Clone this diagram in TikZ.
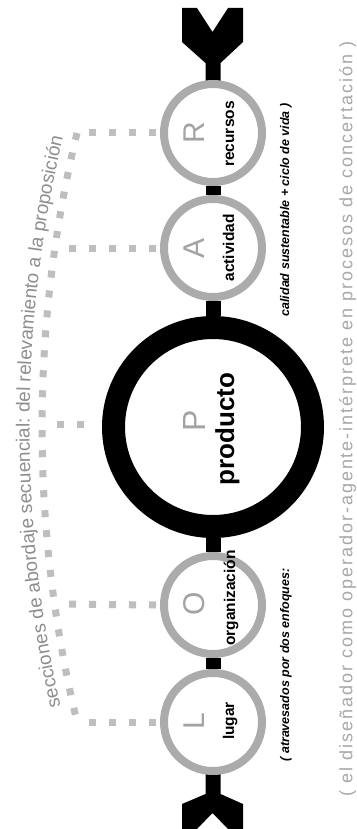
\documentclass[tikz,border=0pt]{standalone}
\usepackage{fontspec}
\setmainfont{Liberation Sans}
\newfontfamily\spacedfont[LetterSpace=11]{Liberation Sans}
\usetikzlibrary{decorations.text,backgrounds}
\definecolor{ringgray}{HTML}{ABABAB}
\definecolor{lettergray}{HTML}{A3A3A3}
\definecolor{dotgray}{HTML}{BEBEBE}
\definecolor{textgray}{HTML}{8E8E8E}
\definecolor{notegray}{HTML}{A8A8A8}
\tikzset{
  smallring/.style={circle, draw=ringgray, line width=8pt, fill=white, minimum size=98pt, inner sep=0pt},
  bigring/.style={circle, draw=black, line width=23pt, fill=white, minimum size=199pt, inner sep=0pt},
  lettertxt/.style={rotate=90, anchor=base, inner sep=0pt, text=lettergray, font=\fontsize{30}{30}\selectfont},
  nametxt/.style={rotate=90, anchor=base, inner sep=0pt, text=black, font=\bfseries\fontsize{15.5}{16}\selectfont},
  blackbar/.style={draw=black, line width=15pt},
  dots/.style={draw=dotgray, line width=7pt, dash pattern=on 7pt off 13pt},
  sidenote/.style={rotate=90, inner sep=0pt, text=black, font=\bfseries\itshape\fontsize{12.5}{14}\selectfont}
}
\begin{document}
\begin{tikzpicture}[x=1pt,y=-1pt]
\useasboundingbox (0,0) rectangle (356,829);

% circles
\node[smallring] (R) at (213,133) {};
\node[smallring] (A) at (213,248) {};
\node[bigring]   (P) at (213,427) {};
\node[smallring] (O) at (213,605) {};
\node[smallring] (L) at (213,722) {};

% letters and names
\node[lettertxt] (Rl) at (204,133) {R};
\node[lettertxt] (Al) at (204,248) {A};
\node[lettertxt, font=\fontsize{32}{32}\selectfont] (Pl) at (205,421) {P};
\node[lettertxt] (Ol) at (204,604) {O};
\node[lettertxt] (Ll) at (204,721) {L};
\node[nametxt] (Rn) at (234,134) {recursos};
\node[nametxt] (An) at (234,248) {actividad};
\node[nametxt, font=\bfseries\fontsize{26}{26}\selectfont] (Pn) at (234,429) {producto};
\node[nametxt] (On) at (235,598) {organización};
\node[nametxt] (Ln) at (234,721) {lugar};

\begin{scope}[on background layer]
  \fill[white] (0,0) rectangle (356,829);
  % black axis
  \fill[black] (182,8) -- (197,8) -- (212.5,32) -- (228,8) -- (243,8) -- (243,42)
     -- (220.5,63) -- (220.5,84) -- (205.5,84) -- (205.5,63) -- (182,42) -- cycle;
  \fill[black] (205.5,770) -- (220.5,770) -- (220.5,794) -- (243,804) -- (243,829)
     -- (228,829) -- (212.5,813) -- (197,829) -- (182,829) -- (182,804) -- (205.5,794) -- cycle;
  \draw[blackbar] (R.south) -- (A.north);
  \draw[blackbar] (A.south) -- (P.north);
  \draw[blackbar] (P.south) -- (O.north);
  \draw[blackbar] (O.south) -- (L.north);
\end{scope}

% dotted bracket
\coordinate (arcTop) at (77,133);
\coordinate (arcBot) at (77,722);
\coordinate (pA) at (58,248);
\coordinate (pP) at (46,424);
\coordinate (pO) at (57,604);
\draw[dots] ([xshift=-4pt]R.west) -- (arcTop);
\draw[dots] ([xshift=-4pt]A.west) -- (pA);
\draw[dots] ([xshift=-18pt,yshift=3pt]P.west) -- (pP);
\draw[dots] ([xshift=-4pt]O.west) -- (pO);
\draw[dots] ([xshift=-4pt]L.west) -- (arcBot);
\draw[dots] (arcTop) arc[start angle=193.55, end angle=166.45, radius=1256.5];

% curved heading
\coordinate (txtStart) at (73.9,760);
\path[decorate, decoration={text along path, text align=center, text color=textgray,
   text={|\fontsize{19}{23}\selectfont|secciones de abordaje secuencial: del relevamiento a la proposición}}]
   (txtStart) arc[start angle=164.81, end angle=195.66, radius=1270];

% side notes
\node[sidenote] (n1) at (286,665) {( atravesados por dos enfoques:};
\node[sidenote] (n2) at (286,210) {calidad sustentable + ciclo de vida )};
\node[rotate=90, inner sep=0pt, text=notegray, font=\spacedfont\fontsize{18}{20}\selectfont] (n3) at (347.5,419)
   {( el diseñador como operador-agente-intérprete en procesos de concertación )};
\end{tikzpicture}
\end{document}
